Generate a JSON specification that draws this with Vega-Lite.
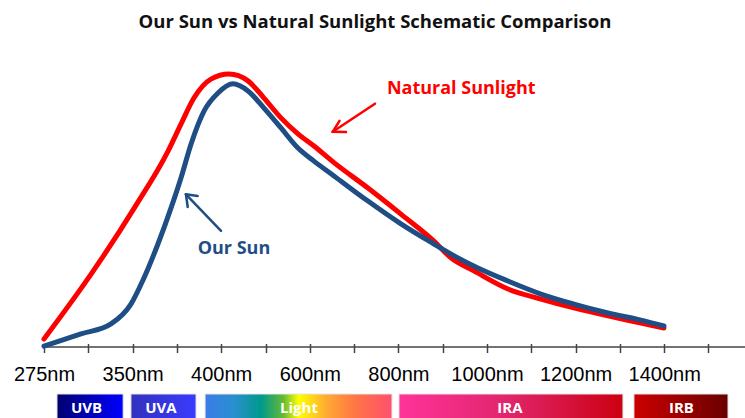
{
  "$schema": "https://vega.github.io/schema/vega-lite/v6.json",
  "autosize": {"type": "pad"},
  "padding": {"left": 13, "top": 12, "right": 0, "bottom": 0},
  "background": "white",
  "bounds": "flush",
  "spacing": 47,
  "title": {"text": "Our Sun vs Natural Sunlight Schematic Comparison", "font": "Open Sans", "fontSize": 18.5, "fontWeight": "bold", "color": "#111111", "anchor": "middle", "frame": "group", "dx": -20, "offset": 20},
  "config": {"view": {"stroke": null}},
  "datasets": {
    "curves": [
      {"series": "Natural Sunlight", "nm": 275, "v": 2.7},
      {"series": "Natural Sunlight", "nm": 315, "v": 24.7},
      {"series": "Natural Sunlight", "nm": 351, "v": 47.0},
      {"series": "Natural Sunlight", "nm": 370, "v": 66.2},
      {"series": "Natural Sunlight", "nm": 377.3, "v": 75.3},
      {"series": "Natural Sunlight", "nm": 384.6, "v": 84.1},
      {"series": "Natural Sunlight", "nm": 394.2, "v": 90.5},
      {"series": "Natural Sunlight", "nm": 417.6, "v": 92.2},
      {"series": "Natural Sunlight", "nm": 460.5, "v": 89.9},
      {"series": "Natural Sunlight", "nm": 496.6, "v": 84.1},
      {"series": "Natural Sunlight", "nm": 535, "v": 77.4},
      {"series": "Natural Sunlight", "nm": 573.3, "v": 72.0},
      {"series": "Natural Sunlight", "nm": 609.4, "v": 67.9},
      {"series": "Natural Sunlight", "nm": 654.6, "v": 62.3},
      {"series": "Natural Sunlight", "nm": 731.3, "v": 53.7},
      {"series": "Natural Sunlight", "nm": 805.7, "v": 44.9},
      {"series": "Natural Sunlight", "nm": 880.2, "v": 35.8},
      {"series": "Natural Sunlight", "nm": 918.6, "v": 30.1},
      {"series": "Natural Sunlight", "nm": 970.5, "v": 25.7},
      {"series": "Natural Sunlight", "nm": 1047.3, "v": 19.6},
      {"series": "Natural Sunlight", "nm": 1121.8, "v": 16.2},
      {"series": "Natural Sunlight", "nm": 1196.2, "v": 13.2},
      {"series": "Natural Sunlight", "nm": 1273, "v": 10.5},
      {"series": "Natural Sunlight", "nm": 1347.5, "v": 8.1},
      {"series": "Natural Sunlight", "nm": 1399.4, "v": 6.4},
      {"series": "Our Sun", "nm": 275, "v": 0.3},
      {"series": "Our Sun", "nm": 306.3, "v": 4.4},
      {"series": "Our Sun", "nm": 331.7, "v": 7.8},
      {"series": "Our Sun", "nm": 348.6, "v": 14.5},
      {"series": "Our Sun", "nm": 356.4, "v": 23.3},
      {"series": "Our Sun", "nm": 364.3, "v": 34.8},
      {"series": "Our Sun", "nm": 371.7, "v": 47.0},
      {"series": "Our Sun", "nm": 377.3, "v": 57.1},
      {"series": "Our Sun", "nm": 383.0, "v": 68.6},
      {"series": "Our Sun", "nm": 390.3, "v": 79.7},
      {"series": "Our Sun", "nm": 398.2, "v": 85.8},
      {"series": "Our Sun", "nm": 426.6, "v": 88.9},
      {"series": "Our Sun", "nm": 460.5, "v": 86.5},
      {"series": "Our Sun", "nm": 496.6, "v": 80.7},
      {"series": "Our Sun", "nm": 535, "v": 74.0},
      {"series": "Our Sun", "nm": 573.3, "v": 67.2},
      {"series": "Our Sun", "nm": 609.4, "v": 62.8},
      {"series": "Our Sun", "nm": 654.6, "v": 57.8},
      {"series": "Our Sun", "nm": 731.3, "v": 49.3},
      {"series": "Our Sun", "nm": 805.7, "v": 41.6},
      {"series": "Our Sun", "nm": 880.2, "v": 34.8},
      {"series": "Our Sun", "nm": 934.4, "v": 30.1},
      {"series": "Our Sun", "nm": 979.5, "v": 26.7},
      {"series": "Our Sun", "nm": 1047.3, "v": 22.3},
      {"series": "Our Sun", "nm": 1121.8, "v": 17.9},
      {"series": "Our Sun", "nm": 1196.2, "v": 14.5},
      {"series": "Our Sun", "nm": 1273, "v": 11.5},
      {"series": "Our Sun", "nm": 1347.5, "v": 9.1},
      {"series": "Our Sun", "nm": 1399.4, "v": 7.1}
    ],
    "arrows": [
      {"series": "Natural Sunlight", "x": 747.1, "y": 82.2, "x2": 651.7, "y2": 72.7},
      {"series": "Natural Sunlight", "x": 651.7, "y": 72.7, "x2": 681.7, "y2": 72.6},
      {"series": "Natural Sunlight", "x": 651.7, "y": 72.7, "x2": 667.0, "y2": 76.4},
      {"series": "Our Sun", "x": 399.9, "y": 39.2, "x2": 380.1, "y2": 51.6},
      {"series": "Our Sun", "x": 380.1, "y": 51.6, "x2": 386.7, "y2": 51.0},
      {"series": "Our Sun", "x": 380.1, "y": 51.6, "x2": 381.1, "y2": 47.3}
    ],
    "labels": [
      {"series": "Natural Sunlight", "text": "Natural Sunlight", "nm": 774, "v": 87.2},
      {"series": "Our Sun", "text": "Our Sun", "nm": 386.7, "v": 33.1}
    ],
    "bands": [
      {"name": "UVB", "start": 286, "end": 342, "label_nm": 311},
      {"name": "UVA", "start": 348.6, "end": 385.8, "label_nm": 366},
      {"name": "Light", "start": 390.9, "end": 785.5, "label_nm": 575.6},
      {"name": "IRA", "start": 801.3, "end": 1306.9, "label_nm": 1051.8},
      {"name": "IRB", "start": 1331.7, "end": 1544.3, "label_nm": 1439}
    ]
  },
  "vconcat": [
    {
      "width": 702,
      "height": 296,
      "layer": [
        {
          "data": {"values": [{}]},
          "mark": {"type": "rule", "color": "#444444", "strokeWidth": 1.5},
          "encoding": {
            "x": {"datum": 275, "type": "quantitative", "title": null, "scale": {"domain": [275, 350, 400, 600, 800, 1000, 1200, 1400, 1585], "range": [0, 88.6, 177.2, 265.8, 354.4, 443, 531.6, 620.2, 702], "zero": false, "nice": false}},
            "x2": {"datum": 1585},
            "y": {"datum": 0, "type": "quantitative", "scale": {"domain": [0, 100], "zero": false, "nice": false}, "axis": null}
          }
        },
        {
          "data": {"name": "curves"},
          "mark": {"type": "line", "strokeWidth": 5, "interpolate": "monotone", "strokeCap": "round", "strokeJoin": "round"},
          "encoding": {
            "x": {"field": "nm", "type": "quantitative", "title": null,
              "scale": {"domain": [275, 350, 400, 600, 800, 1000, 1200, 1400, 1585], "range": [0, 88.6, 177.2, 265.8, 354.4, 443, 531.6, 620.2, 702], "zero": false, "nice": false},
              "axis": {"values": [275, 312.5, 350, 375, 400, 500, 600, 700, 800, 900, 1000, 1100, 1200, 1300, 1400, 1500],
                "labelExpr": "indexof([275,350,400,600,800,1000,1200,1400], datum.value) >= 0 ? datum.value + 'nm' : ''",
                "domain": false, "ticks": true, "tickSize": 9, "tickColor": "#444444", "tickWidth": 1.5, "offset": -3.5,
                "labelPadding": 12, "labelFont": "Liberation Sans", "labelFontSize": 20, "labelColor": "#000000",
                "title": null, "grid": false, "labelOverlap": false, "labelFlush": false}},
            "y": {"field": "v", "type": "quantitative", "axis": null},
            "color": {"field": "series", "type": "nominal", "scale": {"domain": ["Natural Sunlight", "Our Sun"], "range": ["#ff0000", "#1f4e84"]}, "legend": null},
            "order": {"field": "nm", "type": "quantitative"}
          }
        },
        {
          "data": {"name": "arrows"},
          "mark": {"type": "rule", "strokeWidth": 2.5, "strokeCap": "round"},
          "encoding": {
            "x": {"field": "x", "type": "quantitative", "title": null},
            "y": {"field": "y", "type": "quantitative", "axis": null},
            "x2": {"field": "x2"},
            "y2": {"field": "y2"},
            "color": {"field": "series", "type": "nominal", "legend": null}
          }
        },
        {
          "data": {"name": "labels"},
          "mark": {"type": "text", "font": "Open Sans", "fontSize": 18, "fontWeight": "bold", "align": "left", "baseline": "middle"},
          "encoding": {
            "x": {"field": "nm", "type": "quantitative", "title": null},
            "y": {"field": "v", "type": "quantitative", "axis": null},
            "text": {"field": "text"},
            "color": {"field": "series", "type": "nominal", "legend": null}
          }
        }
      ]
    },
    {
      "width": 702,
      "height": 32,
      "data": {"name": "bands"},
      "layer": [
        {"transform": [{"filter": "datum.name === 'UVB'"}], "mark": {"type": "rect", "stroke": "#e4e4e4", "strokeWidth": 1, "fill": {"gradient": "linear", "x1": 0, "x2": 1, "y1": 0, "y2": 0, "stops": [{"offset": 0, "color": "#000070"}, {"offset": 1, "color": "#0000ff"}]}},
         "encoding": {"x": {"field": "start", "type": "quantitative", "axis": null, "title": null, "scale": {"domain": [275, 350, 400, 600, 800, 1000, 1200, 1400, 1585], "range": [0, 88.6, 177.2, 265.8, 354.4, 443, 531.6, 620.2, 702], "zero": false, "nice": false}}, "x2": {"field": "end"}}},
        {"transform": [{"filter": "datum.name === 'UVA'"}], "mark": {"type": "rect", "stroke": "#e4e4e4", "strokeWidth": 1, "fill": {"gradient": "linear", "x1": 0, "x2": 1, "y1": 0, "y2": 0, "stops": [{"offset": 0, "color": "#3232bd"}, {"offset": 1, "color": "#3a3aff"}]}},
         "encoding": {"x": {"field": "start", "type": "quantitative", "axis": null, "title": null}, "x2": {"field": "end"}}},
        {"transform": [{"filter": "datum.name === 'Light'"}], "mark": {"type": "rect", "stroke": "#e4e4e4", "strokeWidth": 1, "fill": {"gradient": "linear", "x1": 0, "x2": 1, "y1": 0, "y2": 0, "stops": [{"offset": 0, "color": "#3b7be8"}, {"offset": 0.15, "color": "#2a8fd0"}, {"offset": 0.3, "color": "#00998c"}, {"offset": 0.42, "color": "#66bb33"}, {"offset": 0.5, "color": "#ffff00"}, {"offset": 0.65, "color": "#ffaa33"}, {"offset": 0.8, "color": "#ff7744"}, {"offset": 1, "color": "#ff4f6e"}]}},
         "encoding": {"x": {"field": "start", "type": "quantitative", "axis": null, "title": null}, "x2": {"field": "end"}}},
        {"transform": [{"filter": "datum.name === 'IRA'"}], "mark": {"type": "rect", "stroke": "#e4e4e4", "strokeWidth": 1, "fill": {"gradient": "linear", "x1": 0, "x2": 1, "y1": 0, "y2": 0, "stops": [{"offset": 0, "color": "#ff3399"}, {"offset": 0.5, "color": "#e0246a"}, {"offset": 1, "color": "#cc0011"}]}},
         "encoding": {"x": {"field": "start", "type": "quantitative", "axis": null, "title": null}, "x2": {"field": "end"}}},
        {"transform": [{"filter": "datum.name === 'IRB'"}], "mark": {"type": "rect", "stroke": "#e4e4e4", "strokeWidth": 1, "fill": {"gradient": "linear", "x1": 0, "x2": 1, "y1": 0, "y2": 0, "stops": [{"offset": 0, "color": "#cc0000"}, {"offset": 1, "color": "#6a0000"}]}},
         "encoding": {"x": {"field": "start", "type": "quantitative", "axis": null, "title": null}, "x2": {"field": "end"}}},
        {
          "mark": {"type": "text", "color": "white", "font": "Open Sans", "fontSize": 15, "fontWeight": "bold", "align": "center", "baseline": "middle", "dy": -2},
          "encoding": {
            "x": {"field": "label_nm", "type": "quantitative", "axis": null, "title": null},
            "text": {"field": "name"}
          }
        }
      ]
    }
  ]
}
